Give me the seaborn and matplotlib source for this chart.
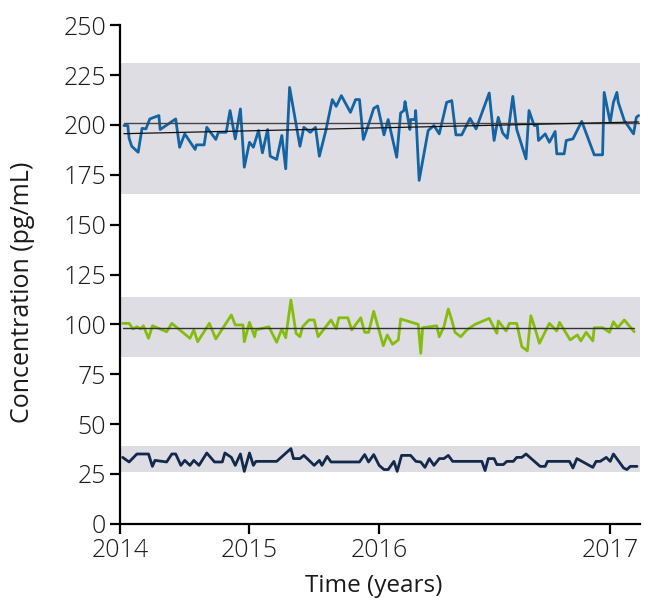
import numpy as np
import pandas as pd
import matplotlib
matplotlib.use("Agg")
import matplotlib.pyplot as plt
import seaborn as sns

# ------------------------------------------------------------------
# Data (time in decimal years)
# ------------------------------------------------------------------
blue_t = [2014.03, 2014.06, 2014.07, 2014.09, 2014.14, 2014.17, 2014.20, 2014.23, 2014.30, 2014.31,
          2014.43, 2014.46, 2014.50, 2014.58, 2014.59, 2014.65, 2014.67, 2014.74, 2014.76, 2014.82,
          2014.85, 2014.89, 2014.93, 2014.96, 2015.00, 2015.03, 2015.07, 2015.10, 2015.14, 2015.16,
          2015.21, 2015.25, 2015.28, 2015.31, 2015.39, 2015.42, 2015.47, 2015.51, 2015.54, 2015.59,
          2015.64, 2015.67, 2015.71, 2015.78, 2015.82, 2015.85, 2015.88, 2015.93, 2015.96, 2015.99,
          2016.022, 2016.040, 2016.077, 2016.094, 2016.108, 2016.113, 2016.134, 2016.137, 2016.156, 2016.159,
          2016.174, 2016.213, 2016.238, 2016.261, 2016.293, 2016.315, 2016.333, 2016.358, 2016.394, 2016.420,
          2016.477, 2016.498, 2016.516, 2016.535, 2016.555, 2016.579, 2016.596, 2016.636, 2016.649, 2016.671,
          2016.685, 2016.690, 2016.719, 2016.737, 2016.762, 2016.769, 2016.801, 2016.810, 2016.839, 2016.877,
          2016.931, 2016.967, 2016.974, 2017.000, 2017.014, 2017.029, 2017.035, 2017.061, 2017.101, 2017.113,
          2017.123]
blue_v = [199.7, 199.7, 193.3, 189.3, 186.3, 198.3, 198.0, 203.0, 204.7, 197.7,
          203.0, 188.8, 195.5, 187.7, 190.0, 190.0, 198.8, 192.7, 196.3, 196.3,
          207.2, 193.0, 208.0, 178.8, 191.3, 188.8, 197.2, 186.0, 197.7, 184.3,
          182.7, 194.7, 178.0, 218.8, 189.3, 198.8, 196.3, 198.8, 184.3, 197.2,
          212.7, 209.3, 214.7, 206.3, 212.7, 212.7, 192.7, 202.2, 208.3, 209.5,
          195.0, 202.7, 183.8, 206.0, 207.2, 211.7, 197.7, 202.7, 202.7, 207.2,
          172.2, 197.2, 199.7, 195.5, 211.3, 212.2, 195.0, 195.0, 203.3, 198.0,
          216.0, 192.2, 203.8, 196.0, 193.3, 214.3, 197.7, 183.0, 207.2, 199.7,
          199.7, 192.2, 195.5, 191.3, 196.7, 185.5, 185.5, 192.2, 193.0, 201.8,
          185.0, 185.0, 216.3, 201.3, 211.3, 216.3, 211.3, 202.2, 195.5, 203.8,
          204.7]

green_t = [2014.02, 2014.07, 2014.10, 2014.13, 2014.16, 2014.18, 2014.22, 2014.25, 2014.36, 2014.40,
           2014.54, 2014.57, 2014.60, 2014.69, 2014.74, 2014.86, 2014.89, 2014.95, 2014.96, 2015.00,
           2015.04, 2015.05, 2015.15, 2015.21, 2015.25, 2015.28, 2015.32, 2015.36, 2015.39, 2015.41,
           2015.46, 2015.50, 2015.53, 2015.63, 2015.67, 2015.69, 2015.76, 2015.79, 2015.86, 2015.89,
           2015.92, 2015.96, 2016.019, 2016.036, 2016.059, 2016.084, 2016.094, 2016.170, 2016.181, 2016.189,
           2016.250, 2016.261, 2016.281, 2016.300, 2016.315, 2016.329, 2016.354, 2016.380, 2016.416, 2016.477,
           2016.510, 2016.516, 2016.550, 2016.564, 2016.596, 2016.618, 2016.642, 2016.657, 2016.675, 2016.694,
           2016.737, 2016.769, 2016.781, 2016.827, 2016.858, 2016.873, 2016.896, 2016.925, 2016.931, 2016.968,
           2016.997, 2017.014, 2017.032, 2017.061, 2017.104]
green_v = [100.5, 100.5, 97.7, 98.8, 97.7, 99.3, 93.0, 99.3, 96.3, 100.5,
           93.0, 97.2, 91.3, 100.5, 92.7, 104.7, 99.7, 99.7, 91.3, 101.0,
           93.8, 97.2, 98.8, 91.0, 97.7, 93.3, 112.2, 95.5, 93.8, 98.8,
           102.2, 102.2, 93.8, 102.2, 97.7, 103.3, 103.3, 97.2, 103.3, 96.0,
           96.0, 106.5, 89.3, 94.7, 90.0, 92.2, 102.7, 100.0, 85.5, 98.3,
           99.3, 93.8, 98.8, 107.7, 102.2, 96.0, 93.8, 97.2, 100.0, 103.0,
           95.5, 101.7, 96.7, 100.5, 100.5, 88.8, 86.7, 104.3, 98.0, 90.5,
           100.5, 96.7, 101.0, 92.2, 94.7, 91.7, 96.0, 91.7, 98.3, 98.3,
           96.0, 101.3, 98.3, 102.2, 96.3]

navy_t = [2014.02, 2014.07, 2014.13, 2014.22, 2014.25, 2014.27, 2014.36, 2014.40, 2014.43, 2014.47,
          2014.50, 2014.54, 2014.57, 2014.61, 2014.67, 2014.73, 2014.79, 2014.81, 2014.86, 2014.89,
          2014.93, 2014.96, 2015.00, 2015.03, 2015.05, 2015.21, 2015.32, 2015.34, 2015.39, 2015.42,
          2015.50, 2015.54, 2015.56, 2015.60, 2015.63, 2015.85, 2015.89, 2015.92, 2015.96, 2016.001,
          2016.022, 2016.040, 2016.065, 2016.079, 2016.098, 2016.137, 2016.160, 2016.181, 2016.199, 2016.218,
          2016.238, 2016.261, 2016.281, 2016.300, 2016.319, 2016.445, 2016.459, 2016.473, 2016.498, 2016.510,
          2016.538, 2016.553, 2016.581, 2016.596, 2016.618, 2016.636, 2016.697, 2016.719, 2016.729, 2016.824,
          2016.839, 2016.856, 2016.925, 2016.939, 2016.957, 2016.983, 2017.000, 2017.014, 2017.058, 2017.072,
          2017.087, 2017.116]
navy_v = [33.3, 31.0, 35.0, 35.0, 28.8, 31.8, 31.0, 35.0, 35.0, 29.3,
          31.8, 29.3, 31.8, 29.3, 35.5, 31.0, 31.0, 35.5, 33.3, 29.3,
          35.0, 26.3, 35.5, 29.3, 31.3, 31.3, 37.7, 32.7, 32.7, 34.3,
          29.3, 31.8, 29.3, 33.8, 31.0, 31.0, 34.7, 31.0, 34.7, 29.3,
          27.2, 27.2, 31.3, 26.3, 34.3, 34.3, 31.3, 31.0, 28.3, 32.7,
          29.3, 32.7, 32.7, 34.3, 31.3, 31.3, 26.7, 32.7, 32.7, 29.7,
          29.7, 31.3, 31.3, 33.3, 33.3, 35.0, 28.8, 28.8, 31.3, 31.3,
          28.0, 32.7, 28.3, 31.3, 31.3, 33.3, 31.3, 35.0, 28.0, 27.2,
          28.8, 28.8]

# grey reference bands (low, high) for blue, green, navy
band_low = [165.5, 83.5, 26.0]
band_high = [231.0, 113.5, 39.0]

# reference lines: blue mean, blue trend (start, end), green mean
blue_mean = 201.0
blue_trend = [195.6, 201.5]
green_mean = 98.3

year_ticks = [2014, 2015, 2016, 2017]
y_ticks = [0, 25, 50, 75, 100, 125, 150, 175, 200, 225, 250]

colors = {"blue": "#1463a3", "green": "#86bc10", "navy": "#13294b"}
band_color = "#dedde3"


# the last year on the reference axis is stretched ~1.79x
def fwd(t):
    t = np.asarray(t, dtype=float)
    return np.where(t <= 2016, t - 2014, 2 + (t - 2016) * 1.787)


def inv(u):
    u = np.asarray(u, dtype=float)
    return np.where(u <= 2, u + 2014, 2016 + (u - 2) / 1.787)


sns.set_style("ticks")
plt.rcParams["font.family"] = ["Open Sans", "DejaVu Sans"]
plt.rcParams["font.weight"] = "light"

fig = plt.figure(figsize=(6.56, 6.0), dpi=100)
ax = fig.add_axes([0.183, 0.127, 0.793, 0.831])
ax.set_xscale("function", functions=(fwd, inv))

for lo, hi in zip(band_low, band_high):
    ax.axhspan(lo, hi, color=band_color, zorder=0, lw=0)

series = [("blue", blue_t, blue_v), ("green", green_t, green_v), ("navy", navy_t, navy_v)]
for name, t, v in series:
    df = pd.DataFrame({"t": t, "v": v})
    sns.lineplot(data=df, x="t", y="v", ax=ax, color=colors[name], lw=2.0,
                 estimator=None, sort=False, zorder=2)

t0, t1 = blue_t[0], blue_t[-1]
ax.plot([t0, t1], [blue_mean, blue_mean], color="#444444", lw=1.0, zorder=3)
ax.plot([t0, t1], blue_trend, color="#111111", lw=0.9, zorder=3)
ax.plot([green_t[0], green_t[-1]], [green_mean, green_mean], color="#333333", lw=1.0, zorder=3)

ax.set_xlim(2014, 2017.13)
ax.set_ylim(0, 250)
ax.set_xticks(year_ticks)
ax.set_xticklabels([str(y) for y in year_ticks])
ax.set_yticks(y_ticks)
ax.xaxis.set_minor_locator(matplotlib.ticker.NullLocator())

for side in ["top", "right"]:
    ax.spines[side].set_visible(False)
for side in ["left", "bottom"]:
    ax.spines[side].set_linewidth(1.6)
    ax.spines[side].set_color("black")
ax.tick_params(axis="both", length=7, width=1.6, color="black",
               labelsize=18, labelcolor="#1a1a1a", pad=3)

ax.set_xlabel("Time (years)", fontsize=17.5, color="#1a1a1a")
ax.set_ylabel("Concentration (pg/mL)", fontsize=18, color="#1a1a1a")
ax.xaxis.set_label_coords(0.488, -0.100)
ax.yaxis.set_label_coords(-0.163, 0.465)

fig.savefig("out.png", dpi=100)
